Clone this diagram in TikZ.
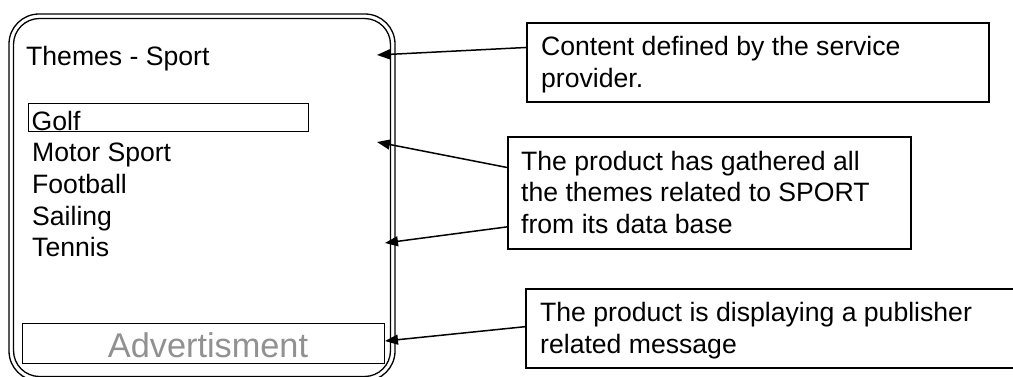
\documentclass[tikz,border=0pt]{standalone}
\usepackage{fontspec}
\setmainfont{Liberation Sans}
\usetikzlibrary{arrows.meta,calc}
\begin{document}
\begin{tikzpicture}[x=1pt,y=-1pt,
  txt/.style={font=\fontsize{26.6}{31.7}\selectfont, inner sep=0pt, align=left, anchor=base west},
  frameline/.style={line width=1.3pt, rounded corners=#1},
  callout/.style={draw, line width=1.6pt, inner sep=0pt, anchor=north west},
  pointer/.style={line width=1.5pt, -{Triangle[length=13pt,width=10pt]}}]
\clip (0,0) rectangle (1013,376);
\fill[white] (0,0) rectangle (1013,376);

% phone screen with double border
\draw[frameline=30pt] (9,14) rectangle (395,381);
\draw[frameline=26pt] (13.5,18.5) rectangle (390.5,376.5);

% screen content
\node[txt] (title) at (26,65) {Themes - Sport};
\node[draw, line width=1.3pt, minimum width=280pt, minimum height=28pt, inner sep=0pt, anchor=north west] (golfbox) at (28,103) {};
\node[txt] (golf) at (31.5,130) {Golf};
\node[txt] (motor) at (32,161.7) {Motor Sport};
\node[txt] (football) at (32,193.4) {Football};
\node[txt] (sailing) at (32,225) {Sailing};
\node[txt] (tennis) at (32,256.8) {Tennis};
\node[draw, line width=1.3pt, minimum width=362pt, minimum height=40pt, inner sep=0pt, anchor=north west] (adbox) at (22,323) {};
\node[font=\fontsize{34.3}{40}\selectfont, text=black!43, inner sep=0pt, anchor=base] (ad) at (208,357) {Advertisment};

% callout boxes (text anchored at the baseline of its last line)
\node[callout, minimum width=462pt, minimum height=79pt] (b1) at (526,22) {};
\node[txt] (t1) at (541,87) {Content defined by the service\\provider.};
\node[callout, minimum width=403pt, minimum height=112pt] (b2) at (507,136) {};
\node[txt] (t2) at (521,233.5) {The product has gathered all\\the themes related to SPORT\\from its data base};
\node[callout, minimum width=500pt, minimum height=79pt] (b3) at (525,288) {};
\node[txt] (t3) at (540,353) {The product is displaying a publisher\\related message};

% pointer targets on the screen
\coordinate (p1) at (377,55);
\coordinate (p2) at (377,142);
\coordinate (p3) at (385,243);
\coordinate (p4) at (385,341);

\draw[pointer] ($(b1.north west)!0.316!(b1.south west)$) -- (p1);
\draw[pointer] ($(b2.north west)!0.277!(b2.south west)$) -- (p2);
\draw[pointer] ($(b2.north west)!0.80!(b2.south west)$) -- (p3);
\draw[pointer] ($(b3.north west)!0.48!(b3.south west)$) -- (p4);
\end{tikzpicture}
\end{document}
